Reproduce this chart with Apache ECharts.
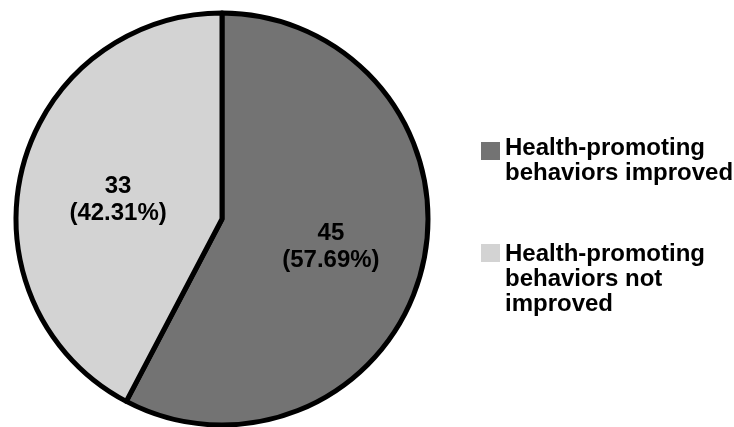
<!DOCTYPE html>
<html>
<head>
<meta charset="utf-8">
<script src="https://cdn.jsdelivr.net/npm/echarts@6/dist/echarts.min.js"></script>
<style>
  html, body { margin: 0; padding: 0; background: #fff; }
  #chart { width: 734px; height: 427px; }
</style>
</head>
<body>
<div id="chart"></div>
<script>
// Survey outcome counts
const categories = ['Health-promoting behaviors improved', 'Health-promoting behaviors not improved'];
const legendLines = [
  ['Health-promoting', 'behaviors improved'],
  ['Health-promoting', 'behaviors not', 'improved']
];
const counts = [45, 33];
const colors = ['#737373', '#d3d3d3'];

const total = counts.reduce((a, b) => a + b, 0);
const FONT = 'Liberation Sans, Arial, sans-serif';
const LINE = 25;
const chart = echarts.init(document.getElementById('chart'));

// One legend block per category; a spacer line above the text keeps the
// swatch level with the first text line
function legendBlock(i, top, spacer) {
  const lines = legendLines[i];
  return {
    orient: 'vertical',
    left: 481,
    top: top,
    padding: 0,
    icon: 'rect',
    itemWidth: 19,
    itemHeight: 18,
    itemStyle: { borderWidth: 0 },
    selectedMode: false,
    data: [categories[i]],
    formatter: () => '{s| }\n' + lines.map(l => '{t|' + l + '}').join('\n'),
    textStyle: {
      fontFamily: FONT,
      fontWeight: 'bold',
      fontSize: 24,
      color: '#000',
      rich: {
        s: { fontSize: 2, lineHeight: spacer, height: spacer },
        t: { fontFamily: FONT, fontWeight: 'bold', fontSize: 24, lineHeight: LINE, color: '#000' }
      }
    }
  };
}

chart.setOption({
  animation: false,
  color: colors,
  legend: [legendBlock(0, 116.5, 19), legendBlock(1, 189.5, 52)],
  series: [{
    type: 'pie',
    center: [222, 219],
    radius: 206,
    startAngle: 90,
    clockwise: true,
    data: categories.map((c, i) => ({
      name: c,
      value: counts[i],
      label: { offset: i === 0 ? [6, 3] : [-1, 6] }
    })),
    itemStyle: { borderColor: '#000', borderWidth: 5 },
    label: {
      position: 'inside',
      formatter: p => p.value + '\n(' + (p.value / total * 100).toFixed(2) + '%)',
      fontFamily: FONT,
      fontWeight: 'bold',
      fontSize: 24,
      lineHeight: 27,
      color: '#000',
      textBorderWidth: 0
    },
    labelLine: { show: false },
    emphasis: { disabled: true }
  }]
});
</script>
</body>
</html>
